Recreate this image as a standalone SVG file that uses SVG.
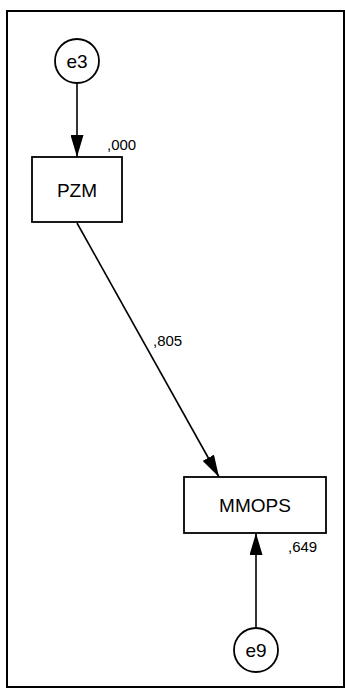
<svg xmlns="http://www.w3.org/2000/svg" width="345" height="688" viewBox="0 0 345 688">
<defs>
<style>
.frame{fill:#fff;stroke:#000;stroke-width:2}
.node{fill:#fff;stroke:#000;stroke-width:1.8}
.lbl{font-family:"Liberation Sans",Arial,sans-serif;font-size:19px;fill:#000;text-anchor:middle}
.num{font-family:"Liberation Sans",Arial,sans-serif;font-size:15px;fill:#000}
.edge{stroke:#000;stroke-width:1.6;fill:none;marker-end:url(#ah)}
</style>
<marker id="ah" viewBox="0 0 22 13" refX="22" refY="6.5" markerWidth="22" markerHeight="13" markerUnits="userSpaceOnUse" orient="auto">
<path d="M0,0 L22,6.5 L0,13 Z" fill="#000"/>
</marker>
</defs>
<rect class="frame" x="7" y="11" width="337" height="676"/>
<g id="connectors">
<line class="edge" x1="77" y1="83" x2="77" y2="157"/>
<line class="edge" x1="77" y1="223" x2="219" y2="477"/>
<line class="edge" x1="256" y1="628" x2="256" y2="533"/>
</g>
<g id="e3">
<circle class="node" cx="77" cy="61" r="22"/>
<text class="lbl" x="77" y="68">e3</text>
</g>
<g id="PZM">
<rect class="node" x="32" y="157" width="90" height="65"/>
<text class="lbl" x="77" y="197">PZM</text>
<text class="num" x="107" y="150">,000</text>
</g>
<g id="MMOPS">
<rect class="node" x="184" y="477" width="142" height="56"/>
<text class="lbl" x="255" y="512">MMOPS</text>
<text class="num" x="288" y="552">,649</text>
</g>
<g id="e9">
<circle class="node" cx="256" cy="650" r="22"/>
<text class="lbl" x="256" y="657">e9</text>
</g>
<g id="labels">
<text class="num" x="153" y="346">,805</text>
</g>
</svg>
